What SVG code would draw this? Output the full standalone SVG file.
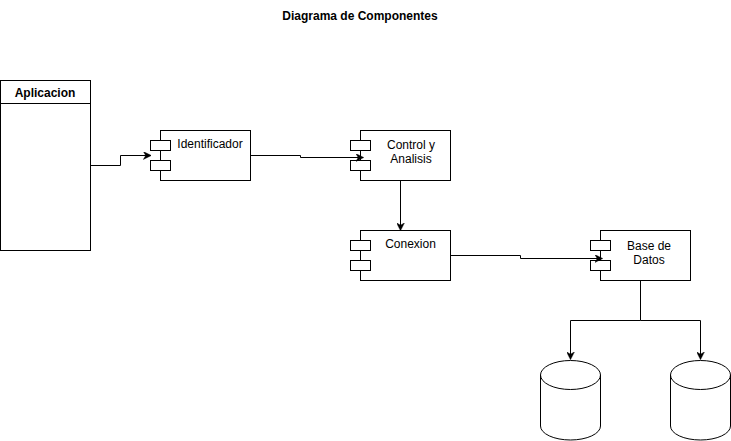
<svg xmlns="http://www.w3.org/2000/svg" width="731" height="441" viewBox="0 0 731 441">
<style>
.box{fill:#fff;stroke:#000;stroke-width:1}
.port{fill:#fff;stroke:#000;stroke-width:1}
.lbl{font-family:"Liberation Sans",Arial,sans-serif;font-size:12px;fill:#000;text-anchor:middle}
.bold{font-weight:bold}
.edge{fill:none;stroke:#000;stroke-width:1}
</style>
<defs>
<marker id="arr" viewBox="0 0 10 10" refX="9" refY="5" markerWidth="8" markerHeight="8" markerUnits="userSpaceOnUse" orient="auto">
<path d="M0,0 L10,5 L0,10 L3,5 Z" fill="#000" stroke="#000" stroke-width="0.5"/>
</marker>
</defs>
<rect width="731" height="441" fill="#fff"/>
<text class="lbl bold" x="360" y="20">Diagrama de Componentes</text>

<g id="aplicacion">
<rect class="box" x="0.5" y="80.5" width="90" height="170"/>
<line class="edge" x1="0.5" y1="103.5" x2="90.5" y2="103.5"/>
<text class="lbl bold" x="45" y="97">Aplicacion</text>
</g>

<g id="identificador">
<rect class="box" x="160.5" y="130.5" width="90" height="50"/>
<rect class="port" x="150.5" y="140.5" width="20" height="10"/>
<rect class="port" x="150.5" y="160.5" width="20" height="10"/>
<text class="lbl" x="210" y="147.5">Identificador</text>
</g>

<g id="control">
<rect class="box" x="360.5" y="130.5" width="90" height="50"/>
<rect class="port" x="350.5" y="140.5" width="20" height="10"/>
<rect class="port" x="350.5" y="160.5" width="20" height="10"/>
<text class="lbl" x="411" y="149">Control y</text>
<text class="lbl" x="411" y="163">Analisis</text>
</g>

<g id="conexion">
<rect class="box" x="360.5" y="230.5" width="90" height="50"/>
<rect class="port" x="350.5" y="240.5" width="20" height="10"/>
<rect class="port" x="350.5" y="260.5" width="20" height="10"/>
<text class="lbl" x="410.5" y="247.5">Conexion</text>
</g>

<g id="basedatos">
<rect class="box" x="600.5" y="230.5" width="90" height="50"/>
<rect class="port" x="590.5" y="240.5" width="20" height="10"/>
<rect class="port" x="590.5" y="260.5" width="20" height="10"/>
<text class="lbl" x="649" y="249.5">Base de</text>
<text class="lbl" x="649" y="263.5">Datos</text>
</g>

<g id="db1">
<path class="box" d="M540.5,375 A30,14.5 0 0 1 600.5,375 V426 A30,14 0 0 1 540.5,426 Z"/>
<path class="edge" d="M540.5,375 A30,14.5 0 0 0 600.5,375"/>
</g>

<g id="db2">
<path class="box" d="M670.5,375 A30,14.5 0 0 1 730.5,375 V426 A30,14 0 0 1 670.5,426 Z"/>
<path class="edge" d="M670.5,375 A30,14.5 0 0 0 730.5,375"/>
</g>

<g id="connectors">
<path class="edge" d="M90.5,165.5 H120.5 V155.5 H150.5" marker-end="url(#arr)"/>
<path class="edge" d="M250.5,155.5 H300.5 V157.5 H363" marker-end="url(#arr)"/>
<path class="edge" d="M400.5,180.5 V230" marker-end="url(#arr)"/>
<path class="edge" d="M450.5,255.5 H520.5 V258.5 H602" marker-end="url(#arr)"/>
<path class="edge" d="M640.5,280.5 V320.5 H570.5 V359" marker-end="url(#arr)"/>
<path class="edge" d="M640.5,320.5 H700.5 V359" marker-end="url(#arr)"/>
</g>
</svg>
